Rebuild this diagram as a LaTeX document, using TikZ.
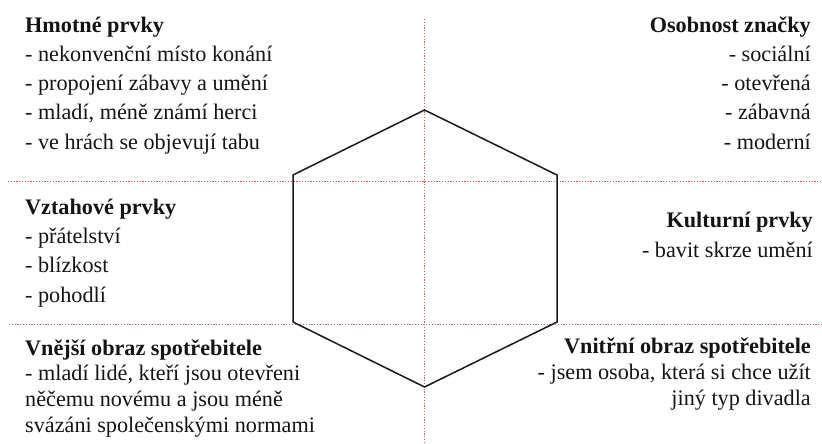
\documentclass[tikz,border=0pt]{standalone}
\usepackage{fontspec}
\setmainfont{Liberation Serif}
\definecolor{gridred}{RGB}{205,90,90}
\definecolor{txt}{RGB}{20,20,20}
\begin{document}
\begin{tikzpicture}[x=1pt,y=-1pt,
  grid/.style={draw=gridred,line width=1pt,dash pattern=on 1.2pt off 1.6pt},
  hexline/.style={draw=black!90,line width=1.5pt,line join=miter},
  blockL/.style={anchor=base west,inner sep=0pt,align=left,text=txt,font=\fontsize{22.2}{29.2}\selectfont},
  blockR/.style={anchor=base east,inner sep=0pt,align=right,text=txt,font=\fontsize{22.2}{29.2}\selectfont},
  blockLb/.style={blockL,font=\fontsize{22.2}{25.6}\selectfont},
  blockRb/.style={blockR,font=\fontsize{22.2}{25.6}\selectfont}]
\useasboundingbox (0,0) rectangle (822,444);
% grid lines
\coordinate (vt) at (424.5,19);
\coordinate (vb) at (424.5,444);
\coordinate (h1l) at (8,181);
\coordinate (h1r) at (822,181);
\coordinate (h2l) at (9,324);
\coordinate (h2r) at (822,324);
\draw[grid] (vt) -- (vb);
\draw[grid] (h1l) -- (h1r);
\draw[grid] (h2l) -- (h2r);
% hexagon
\coordinate (ht) at (424.5,110);
\coordinate (hur) at (557,175);
\coordinate (hlr) at (557,322);
\coordinate (hb) at (424.5,387);
\coordinate (hll) at (293,322);
\coordinate (hul) at (293,175);
\draw[hexline] (ht) -- (hur) -- (hlr) -- (hb) -- (hll) -- (hul) -- cycle;
% text blocks (anchored at the baseline of their last line)
\node[blockL] (hmot) at (25,149) {\textbf{Hmotné prvky}\\- nekonvenční místo konání\\- propojení zábavy a umění\\- mladí, méně známí herci\\- ve hrách se objevují tabu};
\node[blockR] (osob) at (811,149) {\textbf{Osobnost značky}\\- sociální\\- otevřená\\- zábavná\\- moderní};
\node[blockL] (vzt) at (25,302) {\textbf{Vztahové prvky}\\- přátelství\\- blízkost\\- pohodlí};
\node[blockR] (kult) at (813,257) {\textbf{Kulturní prvky}\\- bavit skrze umění};
\node[blockLb] (vnej) at (25,432) {\textbf{Vnější obraz spotřebitele}\\- mladí lidé, kteří jsou otevřeni\\něčemu novému a jsou méně\\svázáni společenskými normami};
\node[blockRb] (vnit) at (811,405) {\textbf{Vnitřní obraz spotřebitele}\\- jsem osoba, která si chce užít\\jiný typ divadla};
\end{tikzpicture}
\end{document}
